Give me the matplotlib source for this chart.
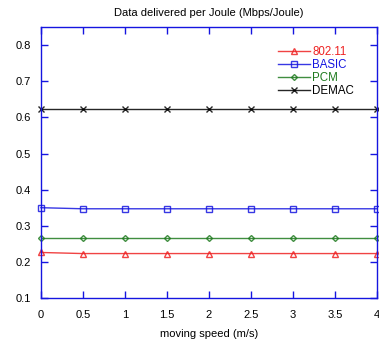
import matplotlib
matplotlib.use("Agg")
import matplotlib.pyplot as plt

plt.rcParams["font.family"] = ["Liberation Sans", "DejaVu Sans"]

speed = [0, 0.5, 1, 1.5, 2, 2.5, 3, 3.5, 4]
ieee80211 = [0.226, 0.223, 0.223, 0.223, 0.223, 0.223, 0.223, 0.223, 0.223]
basic = [0.350, 0.347, 0.347, 0.347, 0.347, 0.347, 0.347, 0.347, 0.347]
pcm = [0.267, 0.267, 0.267, 0.267, 0.267, 0.267, 0.267, 0.267, 0.267]
demac = [0.624, 0.624, 0.624, 0.624, 0.624, 0.624, 0.624, 0.624, 0.624]

series = [
    ("802.11", ieee80211, "#ee2222", "^", "none"),
    ("BASIC", basic, "#1515e0", "s", "none"),
    ("PCM", pcm, "#1e7a1e", "D", "none"),
    ("DEMAC", demac, "black", "x", "black"),
]

fig = plt.figure(figsize=(3.79, 3.39), dpi=100)
ax = fig.add_axes([0.108, 0.121, 0.887, 0.799])

for label, vals, color, marker, face in series:
    ms = 4 if marker != "D" else 3
    ax.plot(speed, vals, color=color, marker=marker, markersize=ms,
            markerfacecolor=face, markeredgecolor=color, linewidth=1.0,
            alpha=0.85, label=label, clip_on=False)

ax.set_xlim(0, 4)
ax.set_ylim(0.1, 0.85)
ax.set_xticks(speed)
ax.set_xticklabels(["0", "0.5", "1", "1.5", "2", "2.5", "3", "3.5", "4"])
ax.set_yticks([0.1, 0.2, 0.3, 0.4, 0.5, 0.6, 0.7, 0.8])
for s in ax.spines.values():
    s.set_color("#1515e0")
    s.set_linewidth(1.0)
ax.tick_params(direction="in", top=True, right=True, color="#1515e0",
               length=5, width=1.0, labelsize=8)
ax.tick_params(axis="x", pad=9)
ax.tick_params(axis="y", pad=7)

ax.set_xlabel("moving speed (m/s)", fontsize=8, labelpad=6)
ax.set_title("Data delivered per Joule (Mbps/Joule)", fontsize=8, pad=8)

leg = ax.legend(loc="upper right", bbox_to_anchor=(0.955, 0.96), frameon=False,
                fontsize=8.3, handlelength=2.75, handletextpad=0.2,
                labelspacing=0.08, borderpad=0.2)
for text, (_, _, color, _, _) in zip(leg.get_texts(), series):
    text.set_color(color)

fig.savefig("out.png", dpi=100)
